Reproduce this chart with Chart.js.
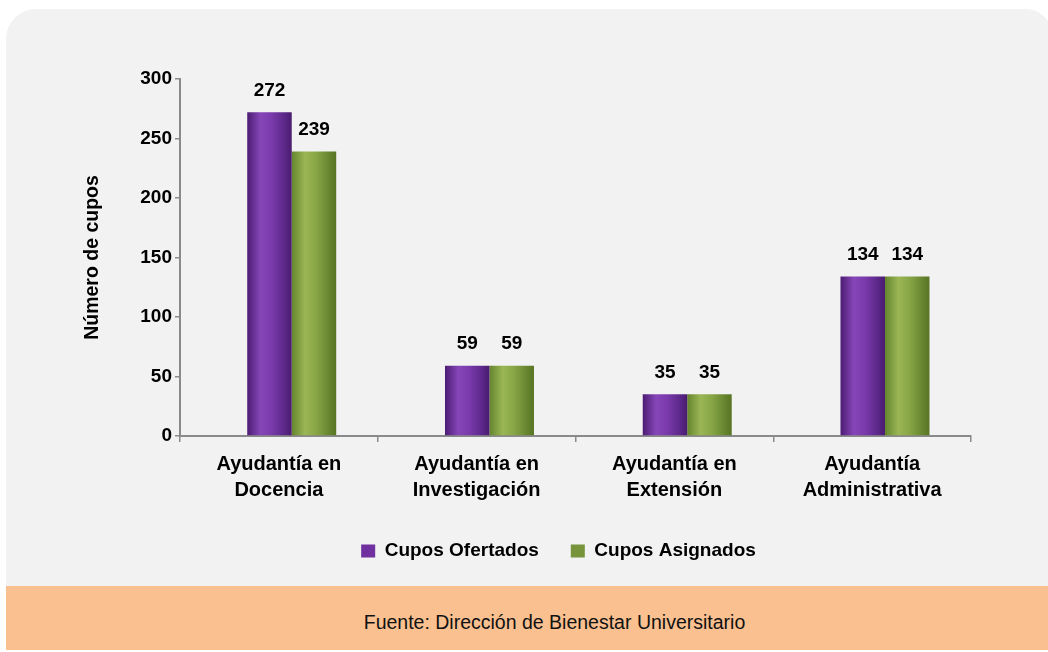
<!DOCTYPE html>
<html>
<head>
<meta charset="utf-8">
<title>Cupos de ayudantías</title>
<script src="https://cdn.jsdelivr.net/npm/chart.js@4.4.1/dist/chart.umd.min.js"></script>
<style>
  html, body { margin: 0; padding: 0; background: #ffffff; width: 1048px; height: 652px; overflow: hidden; }
  #panel { position: absolute; left: 6px; top: 9px; width: 1046px; height: 600px; background: #f2f2f2; border-radius: 30px 26px 0 0; }
  #wrap { position: absolute; left: 0; top: 0; width: 1048px; height: 586px; }
  #source {
    position: absolute; left: 6px; top: 586px; width: 1042px; height: 64px;
    background: #fac090; color: #111111;
    font: 19.5px "Liberation Sans", Arial, sans-serif;
    display: flex; align-items: center; justify-content: center;
    box-sizing: border-box; padding-left: 55px; padding-top: 9px;
  }
</style>
</head>
<body>
<div id="panel"></div>
<div id="wrap"><canvas id="chart" width="1048" height="586"></canvas></div>
<div id="source">Fuente: Dirección de Bienestar Universitario</div>
<script>
// Chart data
const categories = [
  ["Ayudantía en", "Docencia"],
  ["Ayudantía en", "Investigación"],
  ["Ayudantía en", "Extensión"],
  ["Ayudantía", "Administrativa"]
];
const seriesNames = ["Cupos Ofertados", "Cupos Asignados"];
const cuposOfertados = [272, 59, 35, 134];
const cuposAsignados = [239, 59, 35, 134];
const yTicks = [0, 50, 100, 150, 200, 250, 300];
const yTitle = "Número de cupos";

// Styling
const FONT = '"Liberation Sans", Arial, sans-serif';
const AXIS = '#8a8a8a';
const CAT_PCT = 0.45;      // share of each category taken by the bar pair
const BAR_SHIFT = 0.065;   // bar pairs sit slightly right of the category centre
const LEGEND_SHIFT = 34;

const purpleSolid = '#7030a0';
const greenSolid = '#77933c';
const seriesSolids = [purpleSolid, greenSolid];
const purpleStops = [[0, '#4c1c73'], [0.3, '#8646b8'], [0.55, '#7a3aab'], [0.85, '#5a2787'], [1, '#4a1b6e']];
const greenStops = [[0, '#65852e'], [0.3, '#9ab655'], [0.55, '#88a646'], [0.85, '#66842f'], [1, '#587424']];

// Cylinder-like horizontal shading for each bar
function barFill(stops, solid, side) {
  return (ctx) => {
    if (ctx.type !== 'data') return solid;
    const xs = ctx.chart.scales.xb;
    if (!xs || !isFinite(xs.left) || !isFinite(xs.width) || xs.width <= 0) return solid;
    const centre = xs.getPixelForValue(ctx.dataIndex);
    const w = xs.width / categories.length * CAT_PCT / 2;
    const x0 = side === 0 ? centre - w : centre;
    if (!isFinite(x0) || !isFinite(w)) return solid;
    const g = ctx.chart.ctx.createLinearGradient(x0, 0, x0 + w, 0);
    stops.forEach(([o, c]) => g.addColorStop(o, c));
    return g;
  };
}

// Moves the bar scale and the legend after layout
const placement = {
  id: 'placement',
  afterLayout(chart) {
    const xs = chart.scales.xb;
    const d = xs.width / categories.length * BAR_SHIFT;
    xs.left += d;
    xs.right += d;
    xs.configure();
    const lg = chart.legend;
    if (lg) { lg.left += LEGEND_SHIFT; lg.right += LEGEND_SHIFT; }
  }
};

// Value written above each bar
const valueLabels = {
  id: 'valueLabels',
  afterDatasetsDraw(chart) {
    const c = chart.ctx;
    c.save();
    c.font = 'bold 19px ' + FONT;
    c.fillStyle = '#000000';
    c.textAlign = 'center';
    c.textBaseline = 'alphabetic';
    chart.data.datasets.forEach((ds, di) => {
      chart.getDatasetMeta(di).data.forEach((bar, i) => {
        c.fillText(String(ds.data[i]), bar.x, bar.y - 16.5);
      });
    });
    c.restore();
  }
};

new Chart(document.getElementById('chart'), {
  type: 'bar',
  data: {
    labels: categories,
    datasets: [
      { label: seriesNames[0], data: cuposOfertados, xAxisID: 'xb', yAxisID: 'y',
        backgroundColor: barFill(purpleStops, purpleSolid, 0), borderWidth: 0 },
      { label: seriesNames[1], data: cuposAsignados, xAxisID: 'xb', yAxisID: 'y',
        backgroundColor: barFill(greenStops, greenSolid, 1), borderWidth: 0 }
    ]
  },
  options: {
    responsive: false,
    animation: false,
    devicePixelRatio: 1,
    layout: { padding: { top: 79, left: 78, right: 77, bottom: 15.5 } },
    datasets: { bar: { categoryPercentage: CAT_PCT, barPercentage: 1 } },
    scales: {
      xb: { type: 'category', axis: 'x', position: 'bottom', display: false, offset: true },
      x: {
        type: 'category', axis: 'x', position: 'bottom', offset: true,
        grid: { display: true, drawOnChartArea: false, drawTicks: true, tickLength: 6, offset: true, color: AXIS, lineWidth: 1.5 },
        border: { display: true, color: AXIS, width: 2 },
        ticks: { color: '#000000', padding: 10, maxRotation: 0, autoSkip: false,
                 font: { family: FONT, size: 20, weight: 'bold', lineHeight: 1.275 } },
        afterFit(s) { s.height = 73.5; }
      },
      y: {
        min: 0, max: 300,
        ticks: { stepSize: 50, color: '#000000', padding: 3, font: { family: FONT, size: 19, weight: 'bold' } },
        afterBuildTicks(s) { s.ticks = yTicks.map(v => ({ value: v })); },
        afterFit(s) { s.width = 102; },
        grid: { drawOnChartArea: false, drawTicks: true, tickLength: 5, color: AXIS, lineWidth: 1.5 },
        border: { display: true, color: AXIS, width: 2 },
        title: { display: true, text: yTitle, color: '#000000', padding: { top: 2.5, bottom: 0 },
                 font: { family: FONT, size: 19.5, weight: 'bold' } }
      }
    },
    plugins: {
      legend: {
        position: 'bottom',
        labels: {
          boxWidth: 14, boxHeight: 13, padding: 32, color: '#000000',
          font: { family: FONT, size: 19, weight: 'bold' },
          generateLabels(chart) {
            return chart.data.datasets.map((ds, i) => ({
              text: ds.label, fillStyle: seriesSolids[i], strokeStyle: seriesSolids[i],
              lineWidth: 0, hidden: false, datasetIndex: i, fontColor: '#000000'
            }));
          }
        }
      },
      tooltip: { enabled: false }
    }
  },
  plugins: [placement, valueLabels]
});
</script>
</body>
</html>
